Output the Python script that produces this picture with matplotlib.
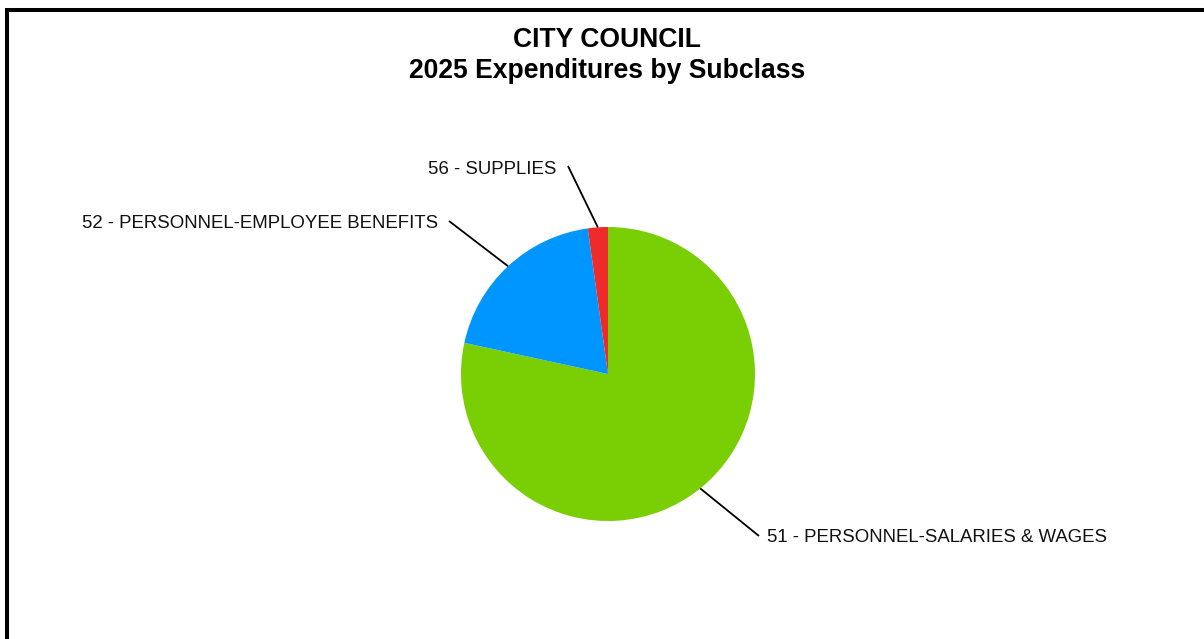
import numpy as np
import matplotlib
matplotlib.use("Agg")
import matplotlib.pyplot as plt
from matplotlib.patches import Rectangle

plt.rcParams["font.family"] = ["Liberation Sans", "DejaVu Sans"]

# Subclass expenditure shares (percent of 2025 total)
labels = [
    "51 - PERSONNEL-SALARIES & WAGES",
    "52 - PERSONNEL-EMPLOYEE BENEFITS",
    "56 - SUPPLIES",
]
shares = [78.4, 19.4, 2.2]
colors = ["#7ACE04", "#0096FF", "#EE2A2A"]

W, H = 1204, 639
fig = plt.figure(figsize=(W / 100, H / 100), dpi=100)
fig.patch.set_facecolor("white")

# Axes in pixel units (y measured upward)
ax = fig.add_axes([0, 0, 1, 1])
ax.set_xlim(0, W)
ax.set_ylim(0, H)
ax.set_aspect("equal")
ax.axis("off")

cx, cy, r = 608, H - 374, 147
wedges, _ = ax.pie(
    shares,
    colors=colors,
    startangle=90,
    counterclock=False,
    radius=r,
    center=(cx, cy),
    wedgeprops=dict(linewidth=0),
    frame=True,
)
ax.set_xlim(0, W)
ax.set_ylim(0, H)
ax.axis("off")

# Label anchor points and alignment for each slice
label_pos = [(767, H - 538, "left"), (438, H - 223, "right"), (556, H - 169, "right")]
line_end = [(759, H - 536), (449, H - 221), (568, H - 166)]

for w, text, (tx, ty, ha), (lx, ly) in zip(wedges, labels, label_pos, line_end):
    mid = np.deg2rad((w.theta1 + w.theta2) / 2)
    ex, ey = cx + r * np.cos(mid), cy + r * np.sin(mid)
    ax.plot([ex, lx], [ey, ly], color="black", linewidth=1.3, solid_capstyle="butt")
    ax.text(tx, ty, text, ha=ha, va="center", fontsize=13.45, color="#111111")

# Title
fig.text(607 / W, 1 - 40 / H, "CITY COUNCIL", ha="center", va="center",
         fontsize=19.1, fontweight="bold")
fig.text(607 / W, 1 - 71 / H, "2025 Expenditures by Subclass", ha="center", va="center",
         fontsize=19.1, fontweight="bold")

# Outer frame
fig.patches.append(Rectangle((7 / W, -0.2), 1.2, 1.2 - 10 / H, transform=fig.transFigure,
                             fill=False, edgecolor="black", linewidth=2.9))

fig.savefig("out.png", dpi=100)
